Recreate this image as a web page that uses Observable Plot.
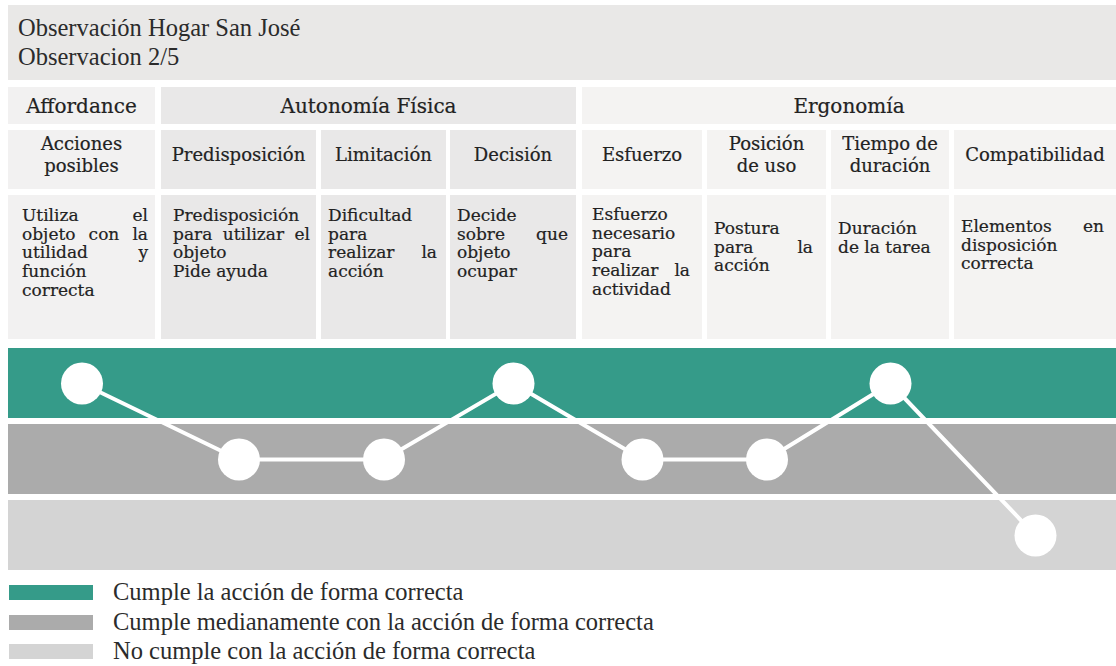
<!DOCTYPE html>
<html>
<head>
<meta charset="utf-8">
<script src="https://cdn.jsdelivr.net/npm/d3@7"></script>
<script src="https://cdn.jsdelivr.net/npm/@observablehq/plot@0.6"></script>
<style>
  html, body { margin: 0; padding: 0; background: #ffffff; }
  body { width: 1116px; height: 666px; position: relative; overflow: hidden; }
  .box { position: absolute; box-sizing: border-box; color: #222222; }
  .serif { font-family: "Liberation Serif", "Times New Roman", serif; }
  .slab { font-family: "DejaVu Serif", serif; -webkit-text-stroke: 0.2px #222222; }
  .center { display: flex; align-items: center; justify-content: center; text-align: center; white-space: pre-line; }
  .line { white-space: nowrap; }
  .just { text-align: justify; text-align-last: justify; }
  #chart { position: absolute; left: 0; top: 340px; }
</style>
</head>
<body>
<script>
// ---------- data ----------
const titleLines = ["Observación Hogar San José", "Observacion 2/5"];
const groups = ["Affordance", "Autonomía Física", "Ergonomía"];
const groupSizes = [1, 3, 4];
const criteria = ["Acciones\nposibles", "Predisposición", "Limitación", "Decisión",
                  "Esfuerzo", "Posición\nde uso", "Tiempo de\nduración", "Compatibilidad"];
const criterionGroup = ["Affordance", "Autonomía Física", "Autonomía Física", "Autonomía Física",
                        "Ergonomía", "Ergonomía", "Ergonomía", "Ergonomía"];
// each description: paragraphs -> lines
const descriptions = [
  [["Utiliza el", "objeto con la", "utilidad y", "función", "correcta"]],
  [["Predisposición", "para utilizar el", "objeto"], ["Pide ayuda"]],
  [["Dificultad", "para", "realizar la", "acción"]],
  [["Decide", "sobre que", "objeto", "ocupar"]],
  [["Esfuerzo", "necesario", "para", "realizar la", "actividad"]],
  [["Postura", "para la", "acción"]],
  [["Duración", "de la tarea"]],
  [["Elementos en", "disposición", "correcta"]]
];
const levelKeys = ["Cumple", "Medianamente", "No cumple"];
const levelLabels = ["Cumple la acción de forma correcta",
                     "Cumple medianamente con la acción de forma correcta",
                     "No cumple con la acción de forma correcta"];
const levelColors = ["#359b89", "#ababab", "#d4d4d4"];
const observed = ["Cumple", "Medianamente", "Medianamente", "Cumple",
                  "Medianamente", "Medianamente", "Cumple", "No cumple"];

// ---------- layout ----------
const W = 1116;
const colLeft  = [8, 161, 321, 450, 582, 707, 831, 954];
const colRight = [155, 316, 446, 576, 702, 826, 949, 1116];
const groupBg = {"Affordance": "#f2f1f1", "Autonomía Física": "#e9e8e8", "Ergonomía": "#f4f3f2"};
const row1 = {top: 87, h: 37}, row2 = {top: 130, h: 59}, row3 = {top: 195, h: 144};
const descPadTop = [11, 11, 11, 11, 10, 24, 24, 22];
const descPadLeft = [14, 12, 7, 7, 10, 7, 7, 7];
const descPadRight = [7, 6, 9, 8, 12, 13, 8, 12];

function box(cls, left, top, width, height, bg) {
  const d = document.createElement("div");
  d.className = "box " + cls;
  Object.assign(d.style, {left: left + "px", top: top + "px", width: width + "px", height: height + "px"});
  if (bg) d.style.background = bg;
  document.body.appendChild(d);
  return d;
}

// title box
const t = box("serif", 8, 5, W - 8, 75, "#e9e8e7");
Object.assign(t.style, {padding: "8px 0 0 10px", fontSize: "24.5px", lineHeight: "29px", color: "#2b2b2b"});
titleLines.forEach(s => { const l = document.createElement("div"); l.textContent = s; t.appendChild(l); });

// row 1: groups
let start = 0;
groups.forEach((g, gi) => {
  const end = start + groupSizes[gi] - 1;
  const c = box("slab center", colLeft[start], row1.top, colRight[end] - colLeft[start], row1.h, groupBg[g]);
  Object.assign(c.style, {fontSize: "20px"});
  c.textContent = g;
  start = end + 1;
});

// row 2: criteria headers, row 3: descriptions
criteria.forEach((name, i) => {
  const w = colRight[i] - colLeft[i];
  const h = box("slab center", colLeft[i], row2.top, w, row2.h, groupBg[criterionGroup[i]]);
  Object.assign(h.style, {fontSize: "18px", lineHeight: "22px", paddingBottom: "9px"});
  h.textContent = name;

  const d = box("slab", colLeft[i], row3.top, w, row3.h, groupBg[criterionGroup[i]]);
  Object.assign(d.style, {fontSize: "17px", lineHeight: "18.7px",
    paddingTop: descPadTop[i] + "px", paddingLeft: descPadLeft[i] + "px", paddingRight: descPadRight[i] + "px"});
  descriptions[i].forEach(par => {
    par.forEach((ln, k) => {
      const l = document.createElement("div");
      l.className = "line" + (k < par.length - 1 && ln.includes(" ") ? " just" : "");
      l.textContent = ln;
      d.appendChild(l);
    });
  });
});

// ---------- chart (bands + line + dots) ----------
const points = criteria.map((c, i) => ({criterion: c, x: (colLeft[i] + colRight[i]) / 2, level: observed[i]}));
const bands = levelKeys.map(k => ({level: k}));

const chart = Plot.plot({
  width: W,
  height: 240,
  marginTop: 7,
  marginBottom: 10,
  marginLeft: 0,
  marginRight: 0,
  x: {domain: [0, W], axis: null},
  y: {type: "band", domain: levelKeys, paddingInner: 0.085, paddingOuter: 0, axis: null},
  color: {domain: levelKeys, range: levelColors},
  marks: [
    Plot.barX(bands, {x1: () => colLeft[0], x2: () => W, y: "level", fill: "level"}),
    Plot.line(points, {x: "x", y: "level", stroke: "#ffffff", strokeWidth: 4}),
    Plot.dot(points, {x: "x", y: "level", r: 21, fill: "#ffffff", stroke: "none"})
  ]
});
chart.id = "chart";
document.body.appendChild(chart);

// ---------- legend ----------
const legendCenters = [592, 622, 651];
levelLabels.forEach((lab, i) => {
  box("", 9, legendCenters[i] - 7, 84, 15, levelColors[i]);
  const tx = box("serif", 113, legendCenters[i] - 15, 800, 29);
  Object.assign(tx.style, {fontSize: "24.5px", lineHeight: "29px", color: "#2b2b2b", whiteSpace: "nowrap"});
  tx.textContent = lab;
});
</script>
</body>
</html>
